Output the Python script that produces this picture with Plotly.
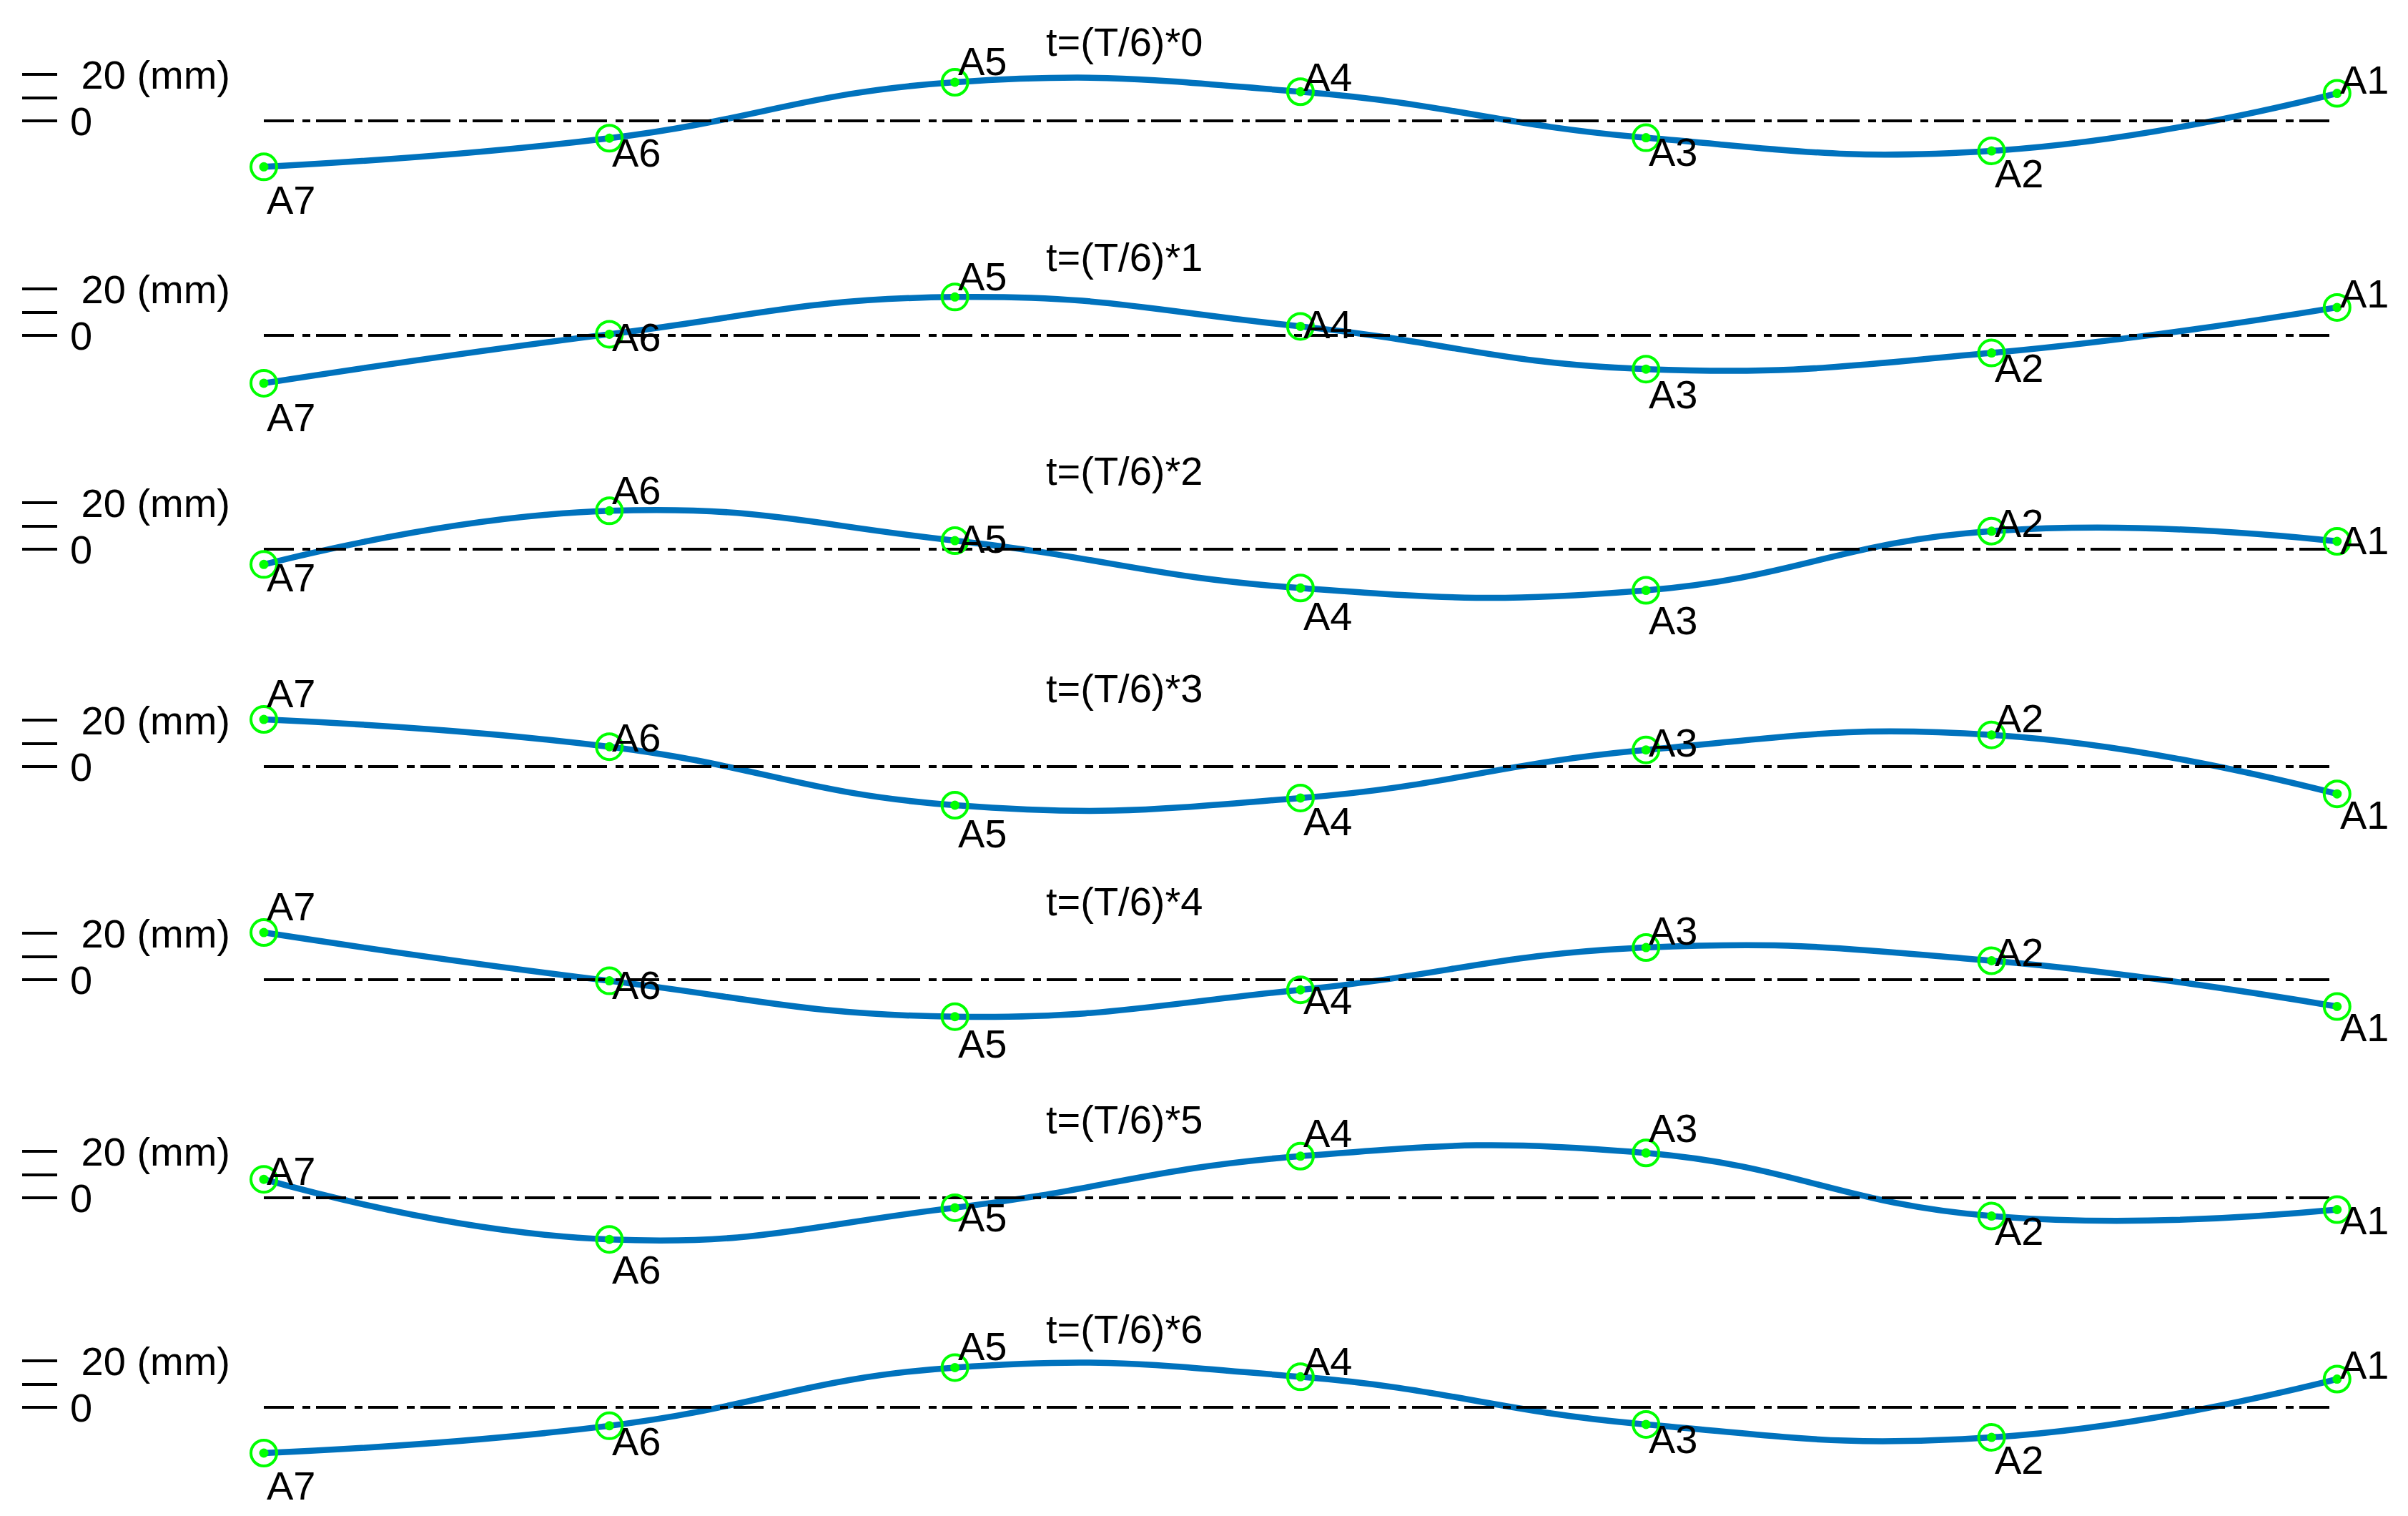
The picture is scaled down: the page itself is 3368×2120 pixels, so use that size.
import plotly.graph_objects as go

# points along the beam, left to right
labels = ["A7", "A6", "A5", "A4", "A3", "A2", "A1"]
steps = [0, 1, 2, 3, 4, 5, 6]

# displacement in mm at t = (T/6)*k
t0 = [-19.9, -7.5, 16.7, 12.6, -7.3, -13.0, 11.9]
t1 = [-20.7, 0.5, 16.6, 3.9, -14.6, -7.6, 12.1]
t2 = [-6.6, 16.6, 3.7, -16.8, -17.8, 7.8, 3.4]
t3 = [20.4, 8.6, -16.7, -13.6, 7.2, 13.7, -11.8]
t4 = [20.4, -0.5, -16.0, -4.4, 13.9, 8.2, -11.6]
t5 = [8.0, -18.0, -4.3, 18.0, 19.4, -7.9, -5.1]
t6 = [-19.8, -8.0, 17.2, 13.2, -7.4, -13.0, 12.2]
series = [t0, t1, t2, t3, t4, t5, t6]

tick_vals = [0, 10, 20]
tick_text = ["0", "", "\u00a020 (mm)"]

# the page body keeps its default 8px margin, so the figure is 16px smaller
PAD = 8
W, H = 3368 - 2 * PAD, 2120 - 2 * PAD
FONT = dict(family="Arial, 'Liberation Sans', sans-serif", size=56, color="black")
BLUE = "#0072BD"
GREEN = "#00FF00"

zero_px = [169, 469, 768, 1072, 1370, 1675, 1968]  # page y of each zero line
half = 140            # px above/below the zero line in each panel
px_per_mm = 3.233
ymax = half / px_per_mm
px_per_step = 483.3
x0_px = 369 - PAD     # A7 position inside the figure

fig = go.Figure()
layout = dict(
    width=W, height=H,
    margin=dict(l=0, r=0, t=0, b=0),
    paper_bgcolor="white", plot_bgcolor="white",
    showlegend=False,
    font=FONT,
)
annotations = []

for k, vals in enumerate(series):
    n = "" if k == 0 else str(k + 1)
    xa, ya = "x" + n, "y" + n
    z = zero_px[k] - PAD

    layout["xaxis" + n] = dict(
        type="category", visible=False, anchor=ya, domain=[0, 1],
        range=[-x0_px / px_per_step, 6 + (W - x0_px - 6 * px_per_step) / px_per_step],
    )
    layout["yaxis" + n] = dict(
        domain=[1 - (z + half) / H, 1 - (z - half) / H],
        range=[-ymax, ymax],
        anchor="free", position=(80 - PAD) / W,
        showgrid=False, zeroline=False, showline=False,
        ticks="outside", ticklen=49, tickwidth=4, tickcolor="black",
        tickvals=tick_vals, ticktext=tick_text,
        ticklabelposition="inside", ticklabelstandoff=14,
        tickfont=FONT,
    )

    fig.add_trace(go.Scatter(
        x=labels, y=vals, xaxis=xa, yaxis=ya, mode="lines",
        line=dict(color=BLUE, width=8.5, shape="spline", smoothing=1.3),
        hoverinfo="skip",
    ))
    fig.add_trace(go.Scatter(
        x=[labels[0], labels[-1]], y=[0, 0], xaxis=xa, yaxis=ya, mode="lines",
        line=dict(color="black", width=4, dash="42px,12px,11px,8px"),
        hoverinfo="skip",
    ))
    fig.add_trace(go.Scatter(
        x=labels, y=vals, xaxis=xa, yaxis=ya, mode="markers",
        marker=dict(symbol="circle-open", size=36, color=GREEN,
                    line=dict(color=GREEN, width=4)),
    ))
    fig.add_trace(go.Scatter(
        x=labels, y=vals, xaxis=xa, yaxis=ya, mode="markers",
        marker=dict(symbol="circle", size=13, color=GREEN),
    ))

    # panel title
    annotations.append(dict(
        text=f"t=(T/6)*{steps[k]}", xref="paper", x=(1572 - PAD) / W,
        yref=ya, y=0, yshift=110, xanchor="center", yanchor="middle",
        showarrow=False, font=FONT,
    ))
    # point labels
    for lab, v in zip(labels, vals):
        annotations.append(dict(
            text=lab, xref=xa, x=lab, yref=ya, y=v,
            xanchor="left", yanchor="middle", xshift=2, yshift=2.05 * v - 5,
            showarrow=False, font=FONT,
        ))

layout["annotations"] = annotations
fig.update_layout(**layout)
fig.write_html("out.html")
